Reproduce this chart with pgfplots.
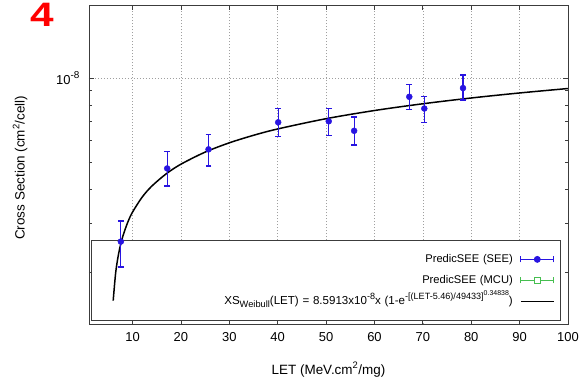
\documentclass[border=0pt]{standalone}
\usepackage{fontspec}
\setmainfont{Liberation Sans}
\usepackage{pgfplots}
\usepackage{pgfplotstable}
\pgfplotsset{compat=1.18}
\definecolor{seeblue}{RGB}{40,20,225}
\definecolor{mcugreen}{RGB}{70,190,80}
\definecolor{frame}{RGB}{60,60,60}
\newcommand{\sups}[2][9.1]{\raisebox{0.42em}{\fontsize{#1}{#1}\selectfont #2}}
\newcommand{\subs}[1]{\raisebox{-0.28em}{\fontsize{9.3}{10}\selectfont #1}}

\pgfplotstableread{
x y ep em
7.58 2.59e-9 0.48e-9 0.49e-9
17.16 4.74e-9 0.71e-9 0.64e-9
25.7 5.55e-9 0.73e-9 0.71e-9
40.1 6.94e-9 0.84e-9 0.77e-9
50.55 7.00e-9 0.78e-9 0.79e-9
55.8 6.47e-9 0.78e-9 0.72e-9
67.2 8.57e-9 0.89e-9 0.84e-9
70.3 7.78e-9 0.82e-9 0.84e-9
78.3 9.21e-9 1.05e-9 0.87e-9
}\seedata

\pgfplotstableread{
x y
6 1.590e-9
6.5 1.993e-9
7 2.282e-9
7.5 2.513e-9
8 2.709e-9
9 3.036e-9
10 3.305e-9
12 3.743e-9
14 4.099e-9
17 4.540e-9
20 4.910e-9
25 5.425e-9
30 5.858e-9
35 6.234e-9
40 6.570e-9
50 7.152e-9
60 7.651e-9
70 8.090e-9
80 8.486e-9
90 8.846e-9
100 9.177e-9
}\weibull

\begin{document}
\begin{tikzpicture}
\path[use as bounding box] (-89bp,-55bp) rectangle (491bp,324bp);
\begin{axis}[
  scale only axis, width=479bp, height=319bp,
  xmin=1, xmax=100, ymode=log, ymin=1.31e-9, ymax=1.83e-8,
  at={(0bp,0bp)}, anchor=south west,
  axis line style={frame, line width=0.8bp},
  xtick={10,20,...,100},
  ytick={1e-8}, yticklabels={10\sups[10]{-8}},
  minor ytick={2e-9,3e-9,4e-9,5e-9,6e-9,7e-9,8e-9,9e-9},
  xmajorgrids, ymajorgrids,
  major grid style={gray!75, line width=0.5bp, dash pattern=on 1bp off 2bp},
  major tick length=5bp, minor tick length=3bp,
  every tick/.style={frame, line width=0.8bp},
  /pgf/number format/assume math mode=true,
  tick label style={font=\fontsize{13}{15}\selectfont},
  xticklabel style={yshift=-4.5bp},
  yticklabel style={xshift=-6bp},
  xlabel={LET (MeV.cm\textsuperscript{2}/mg)},
  ylabel={Cross Section (cm\textsuperscript{2}/cell)},
  label style={font=\fontsize{13.5}{16}\selectfont},
  xlabel style={at={(axis description cs:0.5,-0.1567)}, anchor=base},
  ylabel style={at={(axis description cs:-0.144,0.49)}, anchor=center},
  legend plot pos=right,
  legend style={at={(rel axis cs:0.9854,0.0094)}, anchor=south east,
    draw=frame, line width=0.8bp, fill=white,
    font=\fontsize{11.2}{12}\selectfont,
    inner xsep=6bp, inner ysep=13bp, row sep=8.5bp,
    nodes={text width=414bp, align=right, inner sep=1bp, text height=8bp, text depth=2.5bp}},
]
\addlegendimage{legend image code/.code={
  \path[draw=none, fill=none] (0bp,-4bp) rectangle (40bp,4bp);
  \draw[seeblue, line width=1.2bp] (7bp,0bp) -- (40bp,0bp);
  \draw[seeblue, line width=1.2bp] (7bp,-3bp) -- (7bp,3bp) (40bp,-3bp) -- (40bp,3bp);
  \fill[seeblue] (23.5bp,0bp) circle (3bp);
}}
\addlegendentry{PredicSEE (SEE)}
\addlegendimage{legend image code/.code={
  \path[draw=none, fill=none] (0bp,-4bp) rectangle (40bp,4bp);
  \draw[mcugreen, line width=1.2bp] (7bp,0bp) -- (20.5bp,0bp) (26.5bp,0bp) -- (40bp,0bp);
  \draw[mcugreen, line width=1.2bp] (7bp,-3bp) -- (7bp,3bp) (40bp,-3bp) -- (40bp,3bp);
  \draw[mcugreen, line width=1bp, fill=none] (20.5bp,-3bp) rectangle (26.5bp,3bp);
}}
\addlegendentry{PredicSEE (MCU)}
\addlegendimage{legend image code/.code={
  \path[draw=none, fill=none] (0bp,-4bp) rectangle (40bp,4bp);
  \draw[black, line width=1.6bp] (7bp,0bp) -- (40bp,0bp);
}}
\addlegendentry{\fontsize{11.6}{12}\selectfont XS\subs{Weibull}(LET) = 8.5913x10\sups{-8}x (1-e\sups{-[(LET-5.46)/49433]\sups[7]{0.34838}})}
\end{axis}
\begin{axis}[
  scale only axis, width=479bp, height=319bp,
  xmin=1, xmax=100, ymode=log, ymin=1.31e-9, ymax=1.83e-8,
  at={(0bp,0bp)}, anchor=south west, hide axis]
\addplot[black, line width=1.5bp, smooth] table[x=x, y=y] {\weibull};
\addplot[seeblue, only marks, mark=*, mark size=3bp,
  error bars/.cd, y dir=both, y explicit,
  error bar style={line width=1.2bp, seeblue},
  error mark options={rotate=90, mark size=2.9bp, line width=1.2bp, seeblue}]
  table[x=x, y=y, y error plus=ep, y error minus=em] {\seedata};
\end{axis}
\node[anchor=north west, inner sep=0pt, text=red, xscale=1.25, font=\fontsize{34}{34}\selectfont\bfseries] at (-59bp,321.5bp) {4};
\end{tikzpicture}
\end{document}
